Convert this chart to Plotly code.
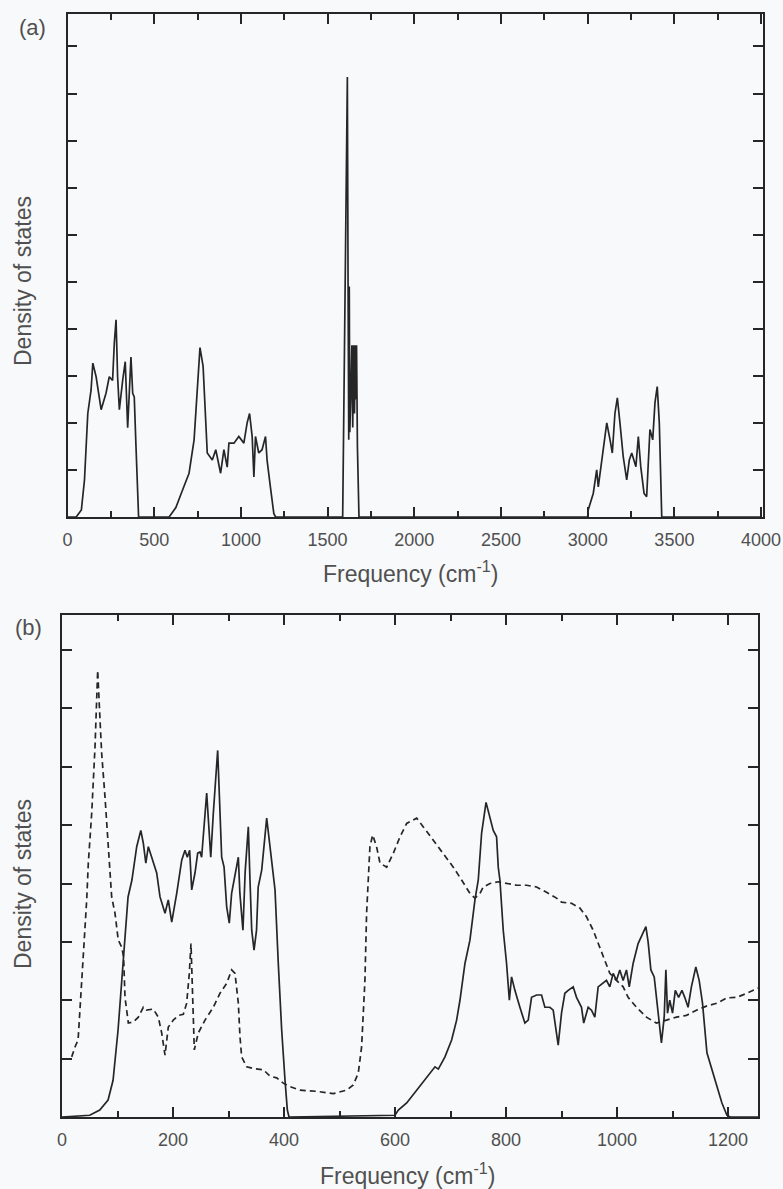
import plotly.graph_objects as go

# ---------------- panel (a): full spectrum ----------------
freq_a = [0, 50, 80, 98, 117, 136, 146, 165, 194, 222, 241, 260, 270, 280, 289, 299, 318, 333, 347, 366, 376, 385, 395, 410,
          586, 625, 663, 701, 730, 749, 764, 782, 797, 806, 835, 855, 883, 902, 921, 931, 960, 988, 1017, 1036, 1050, 1065,
          1075, 1084, 1103, 1122, 1142, 1151, 1170, 1190, 1200,
          1560, 1587, 1600, 1614, 1618, 1622, 1625, 1628, 1634, 1640, 1645, 1650, 1655, 1660, 1664, 1667, 1672, 1681,
          3000, 3003, 3032, 3042, 3052, 3061, 3081, 3110, 3129, 3142, 3157, 3171, 3186, 3205, 3225, 3240, 3254, 3267,
          3278, 3292, 3306, 3325, 3340, 3359, 3375, 3388, 3401, 3413, 3427, 4000]
dos_a = [0, 0, 0.15, 0.79, 2.2, 2.7, 3.27, 2.98, 2.28, 2.63, 2.98, 2.9, 3.7, 4.19, 2.98, 2.28, 2.9, 3.3, 1.9, 3.4, 2.63, 2.55, 1.5, 0,
         0, 0.2, 0.57, 0.93, 1.64, 2.77, 3.6, 3.2, 2.06, 1.36, 1.21, 1.43, 0.93, 1.43, 1.06, 1.57, 1.57, 1.71, 1.57, 2.0, 2.2, 1.71,
         0.85, 1.71, 1.36, 1.43, 1.71, 1.21, 0.64, 0.07, 0,
         0, 0, 4.5, 9.35, 5.0, 1.64, 4.9, 1.8, 2.6, 3.65, 1.9, 3.65, 2.2, 3.65, 2.5, 3.65, 1.5, 0,
         0, 0.15, 0.5, 0.79, 1.0, 0.64, 1.21, 2.0, 1.64, 1.36, 2.2, 2.53, 2.0, 1.28, 0.79, 1.21, 1.36, 1.19,
         1.07, 1.71, 1.07, 0.5, 0.43, 1.86, 1.64, 2.43, 2.77, 2.0, 0, 0]

# ---------------- panel (b): low-frequency region ----------------
freq_b_solid = [0, 50, 68, 83, 92, 101, 110, 119, 126, 134.6, 142, 146.5, 151, 155.5, 161.6, 170.6, 176.6, 185.6, 191.5,
                197.7, 206.7, 215.7, 221.6, 225.8, 230, 233.7, 239.6, 244.5, 248.6, 251.6, 260.7, 268, 272.6, 280.5,
                287.7, 292, 296.7, 301.4, 305.6, 308.6, 317.7, 320.5, 326, 330, 335.7, 338.7, 341.8, 346, 350.5, 353.5,
                359.8, 368.8, 374.8, 379.6, 383.8, 389.7, 395.8, 401.8, 406, 409,
                600, 606, 621, 639, 657, 672, 678, 690, 702, 711, 717, 726, 735, 744, 750, 756, 764, 771, 777, 783, 786,
                789, 795, 801, 806, 810, 816, 825, 834, 840, 846, 855, 864, 870, 879, 885, 894, 900, 906, 912, 921, 927,
                936, 940, 948, 954, 960, 966, 972, 981, 987, 993, 999, 1005, 1011, 1017, 1022, 1029, 1038, 1047, 1052,
                1056, 1061, 1067, 1073, 1080, 1085, 1088, 1091, 1095, 1100, 1105, 1111, 1117, 1122, 1128, 1134, 1142,
                1148, 1154, 1162, 1171, 1180, 1189, 1198, 1204, 1254]
dos_b_solid = [0, 0.03, 0.12, 0.29, 0.63, 1.49, 2.63, 3.77, 4.06, 4.63, 4.91, 4.69, 4.35, 4.63, 4.45, 4.18, 3.77, 3.49, 3.72,
               3.34, 3.83, 4.4, 4.57, 4.45, 4.57, 3.89, 4.18, 4.52, 4.54, 4.45, 5.55, 4.45, 5.2, 6.28,
               4.45, 4.28, 3.6, 3.32, 3.83, 4.0, 4.45, 3.83, 3.2, 4.2, 4.97, 4.06, 3.2, 2.86, 3.2, 3.94,
               4.23, 5.12, 4.63, 4.28, 3.89, 2.63, 1.49, 0.63, 0.12, 0,
               0.03, 0.12, 0.24, 0.46, 0.68, 0.86, 0.82, 1.03, 1.32, 1.66, 2.0, 2.63, 3.03, 3.72, 4.06, 4.86, 5.39, 5.14,
               4.91, 4.8, 4.28, 4.06, 3.2, 2.63, 2.0, 2.4, 2.17, 1.88, 1.61, 1.66, 2.05, 2.09, 2.09, 1.88, 1.88, 1.83,
               1.23, 1.78, 2.12, 2.17, 2.23, 2.05, 1.88, 1.61, 1.88, 1.83, 1.71, 2.23, 2.28, 2.34, 2.23, 2.46, 2.34,
               2.52, 2.34, 2.52, 2.23, 2.63, 2.97, 3.15, 3.26, 3.0, 2.52, 2.4, 1.88, 1.27, 1.71, 2.52, 1.78, 2.0, 1.78,
               2.17, 2.05, 2.17, 2.05, 1.88, 2.23, 2.57, 2.34, 1.95, 1.1, 0.81, 0.52, 0.24, 0.03, 0, 0]

freq_b_dash = [17.5, 23.4, 29, 32, 38, 44.5, 47.4, 53.5, 59.5, 64.3, 68.5, 71.5, 77.5, 83.4, 89.5, 95.5, 101.4, 107.6, 111,
               113.5, 119.5, 128.5, 137.5, 146.5, 152, 164.5, 173.5, 179.6, 185.6, 191.5, 200.5, 209.5, 218.6, 224.6,
               229.4, 232.4, 236.6, 238.4, 245.6, 257.7, 272.6, 284.7, 296.7, 305.7, 311.7, 317.7, 320.7, 323.7, 332.8,
               344.8, 362.7, 374.8, 386.8, 398.7, 410.8, 428.8, 458.8, 488.8, 512.8, 524.8, 533.8, 539.8, 545.8, 548.8,
               551.8, 554.8, 559.7, 566.8, 572.9, 585, 597, 609, 621, 639, 651, 669, 687, 705, 720, 735, 744, 753, 759,
               771, 786, 801, 819, 837, 855, 873, 891, 900, 918, 933, 945, 957, 969, 978, 987, 999, 1011, 1020, 1035,
               1053, 1071, 1089, 1107, 1125, 1143, 1161, 1180, 1198, 1216, 1234, 1254]
dos_b_dash = [1.03, 1.2, 1.32, 1.78, 2.63, 3.72, 4.35, 5.2, 6.34, 7.65, 6.8, 6.23, 5.48, 4.63, 3.77, 3.49, 3.03, 2.91, 2.74,
              2.05, 1.61, 1.63, 1.71, 1.88, 1.83, 1.85, 1.71, 1.44, 1.06, 1.54, 1.66, 1.74, 1.76, 1.95,
              2.46, 2.97, 1.76, 1.15, 1.44, 1.66, 1.88, 2.12, 2.29, 2.52, 2.46, 1.95, 1.37, 1.03, 0.86,
              0.83, 0.81, 0.7, 0.67, 0.58, 0.52, 0.46, 0.44, 0.4, 0.46, 0.55, 0.75, 1.2, 2.34, 3.49,
              4.06, 4.63, 4.83, 4.63, 4.35, 4.28, 4.52, 4.8, 5.03, 5.12, 4.97, 4.74, 4.52, 4.28, 4.06, 3.83, 3.75, 3.83, 3.94,
              4.0, 4.03, 4.0, 3.97, 3.97, 3.94, 3.85, 3.75, 3.68, 3.66, 3.58, 3.43, 3.2, 2.91, 2.69, 2.46, 2.34, 2.23, 2.05, 1.88,
              1.71, 1.61, 1.66, 1.71, 1.74, 1.83, 1.9, 1.95, 2.04, 2.05, 2.12, 2.21]

ticks_a = [0, 500, 1000, 1500, 2000, 2500, 3000, 3500, 4000]
ticks_b = [0, 200, 400, 600, 800, 1000, 1200]

LINE = "#262626"
TEXT = "#505050"
FONT = "Liberation Sans, Arial, Helvetica, sans-serif"
W, H = 783, 1189

fig = go.Figure()
fig.add_trace(go.Scatter(x=freq_a, y=dos_a, mode="lines", line=dict(color=LINE, width=1.7),
                         xaxis="x", yaxis="y", showlegend=False))
fig.add_trace(go.Scatter(x=freq_b_solid, y=dos_b_solid, mode="lines", line=dict(color=LINE, width=1.7),
                         xaxis="x2", yaxis="y2", showlegend=False))
fig.add_trace(go.Scatter(x=freq_b_dash, y=dos_b_dash, mode="lines",
                         line=dict(color=LINE, width=1.7, dash="6px,4px"),
                         xaxis="x2", yaxis="y2", showlegend=False))

axis_common = dict(showline=True, linecolor=LINE, linewidth=1.5, mirror="ticks", ticks="inside",
                   tickcolor=LINE, tickwidth=1.5, showgrid=False, zeroline=False, automargin=False)

fig.update_layout(
    width=W, height=H, autosize=False,
    margin=dict(l=0, r=0, t=0, b=0, pad=0, autoexpand=False),
    paper_bgcolor="#f8f9fb", plot_bgcolor="#f8f9fb",
    font=dict(family=FONT, color=TEXT, size=18),
    xaxis=dict(domain=[67.5 / W, 763 / W], range=[0, 4011], anchor="y", tickvals=ticks_a,
               ticklen=10, ticklabelstandoff=6,
               minor=dict(dtick=250, tick0=0, ticks="inside", ticklen=6, tickcolor=LINE, tickwidth=1.5),
               tickfont=dict(size=18, color=TEXT), **axis_common),
    yaxis=dict(domain=[1 - 517 / H, 1 - 14 / H], range=[0, 10.69], anchor="x", dtick=1, tick0=0,
               ticklen=10, showticklabels=False, **axis_common),
    xaxis2=dict(domain=[62 / W, 758 / W], range=[0, 1254], anchor="y2", tickvals=ticks_b,
                ticklen=10, ticklabelstandoff=6,
                minor=dict(dtick=100, tick0=0, ticks="inside", ticklen=6, tickcolor=LINE, tickwidth=1.5),
                tickfont=dict(size=18, color=TEXT), **axis_common),
    yaxis2=dict(domain=[1 - 1117 / H, 1 - 615 / H], range=[0, 8.6], anchor="x2", dtick=1, tick0=0,
                ticklen=10, showticklabels=False, **axis_common),
)

ann = [
    dict(text="(a)", x=32 / W, y=1 - 27 / H, font=dict(size=22)),
    dict(text="(b)", x=28 / W, y=1 - 627 / H, font=dict(size=22)),
    dict(text="Density of states", x=23 / W, y=1 - 281 / H, textangle=-90, font=dict(size=23)),
    dict(text="Density of states", x=23 / W, y=1 - 884 / H, textangle=-90, font=dict(size=23)),
    dict(text="Frequency (cm<sup>-1</sup>)", x=410 / W, y=1 - 572 / H, font=dict(size=23)),
    dict(text="Frequency (cm<sup>-1</sup>)", x=407 / W, y=1 - 1174 / H, font=dict(size=23)),
]
for a in ann:
    a.update(xref="paper", yref="paper", showarrow=False, xanchor="center", yanchor="middle")
    a["font"].update(family=FONT, color=TEXT)
fig.update_layout(annotations=ann)

fig.write_html("out.html")
